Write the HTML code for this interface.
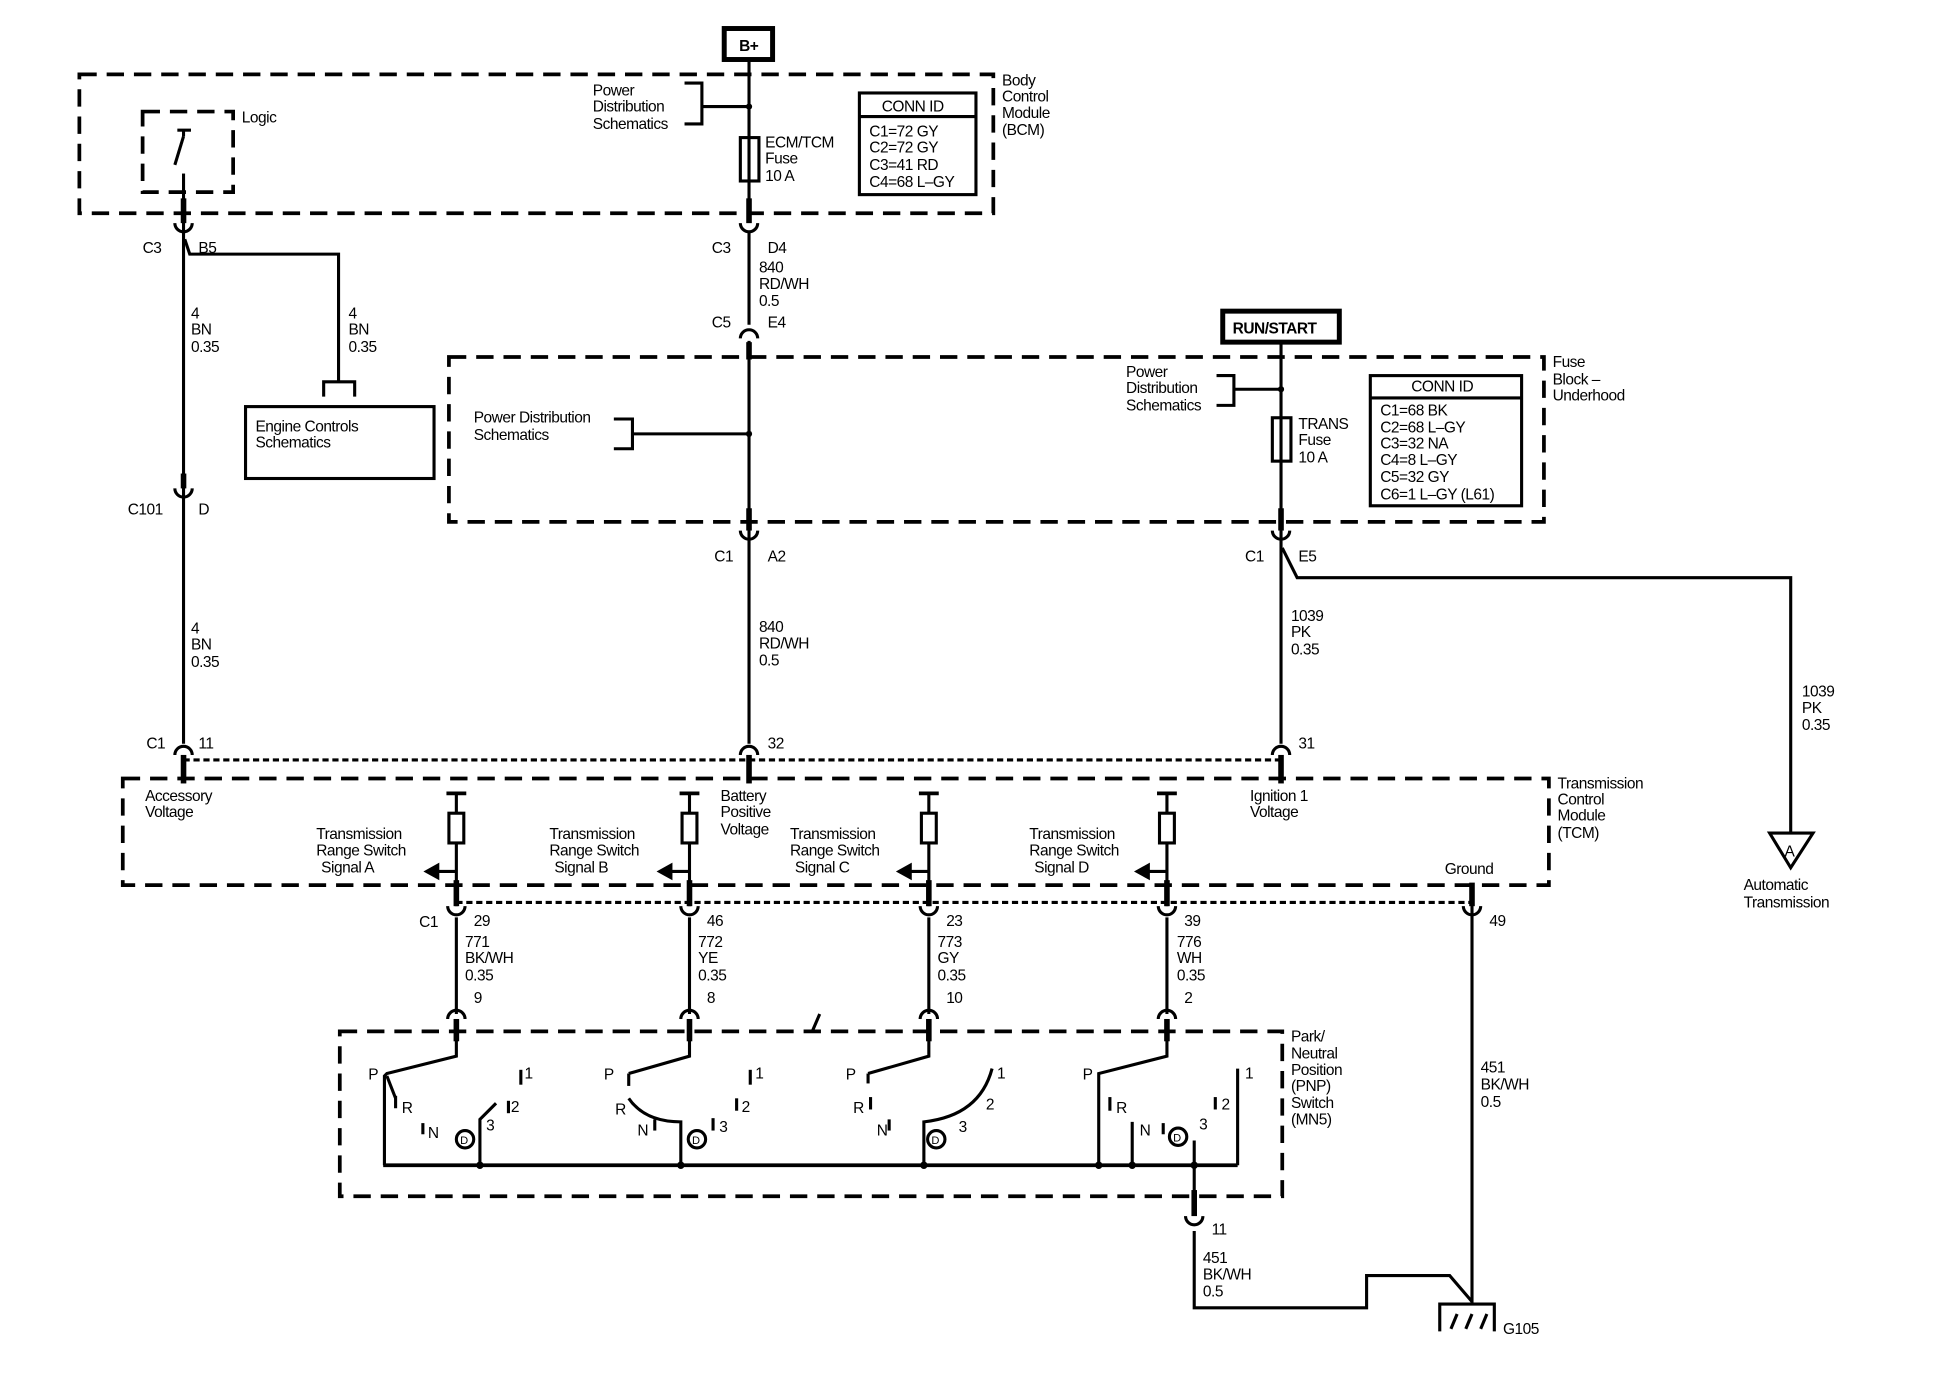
<!DOCTYPE html>
<html><head><meta charset="utf-8"><style>
html,body{margin:0;padding:0;background:#fff;}
svg{display:block;}
text{font-family:"Liberation Sans",sans-serif;font-size:12.5px;fill:#000;letter-spacing:-0.4px;}
.b{font-weight:bold;}
</style></head><body>
<svg width="1942" height="1376" viewBox="0 0 1566 1110" preserveAspectRatio="none" xmlns="http://www.w3.org/2000/svg">
<g fill="none" stroke="#000" stroke-width="2.5">
<!-- dashed boxes -->
<g stroke-dasharray="14,8" stroke-width="3">
<rect x="64" y="60" width="737" height="112"/>
<rect x="115" y="90" width="73" height="65"/>
<rect x="362" y="288" width="883" height="133"/>
<rect x="99" y="628" width="1150" height="86"/>
<rect x="274" y="832" width="760" height="133"/>
</g>
<!-- dotted -->
<g stroke-dasharray="5,3" stroke-width="2.5">
<line x1="148" y1="613" x2="1033" y2="613"/>
<line x1="368" y1="728" x2="1187" y2="728"/>
</g>
<!-- B+ -->
<rect x="584" y="23" width="39" height="25" stroke-width="4"/>
<line x1="604" y1="48" x2="604" y2="178"/>
<polyline points="552,67 566,67 566,100 552,100"/>
<line x1="566" y1="86" x2="604" y2="86"/>
<rect x="597" y="111" width="15" height="35"/>
<rect x="693" y="75" width="94" height="82"/>
<line x1="693" y1="94" x2="787" y2="94"/>
<!-- logic switch -->
<line x1="143" y1="105" x2="154" y2="105"/>
<line x1="148" y1="105" x2="148" y2="110"/>
<line x1="148" y1="110" x2="141" y2="133"/>
<line x1="148" y1="140" x2="148" y2="178"/>
<!-- left wire -->
<line x1="148" y1="178" x2="148" y2="600"/>
<polyline points="149,193 153,205 273,205 273,308"/>
<polyline points="261,320 261,308 286,308 286,320"/>
<rect x="198" y="328" width="152" height="58"/>
<!-- middle -->
<line x1="604" y1="186" x2="604" y2="262"/>
<line x1="604" y1="275" x2="604" y2="600"/>
<polyline points="495,338 510,338 510,362 495,362"/>
<line x1="510" y1="350" x2="604" y2="350"/>
<!-- right -->
<rect x="986" y="251" width="94" height="25" stroke-width="4"/>
<line x1="1033" y1="277" x2="1033" y2="600"/>
<polyline points="981,303 995,303 995,327 981,327"/>
<line x1="995" y1="314" x2="1033" y2="314"/>
<rect x="1026" y="337" width="15" height="35"/>
<rect x="1105" y="303" width="122" height="105"/>
<line x1="1105" y1="321" x2="1227" y2="321"/>
<polyline points="1034,442 1046,466 1444,466 1444,672"/>
<polygon points="1427,672 1462,672 1444,700"/>
<!-- TCM columns -->
<g id="col">
</g>
<!-- ground wire -->
<line x1="1187" y1="714" x2="1187" y2="1052"/>
<!-- PNP -->
<line x1="309" y1="940" x2="998" y2="940" stroke-width="3"/>
<!-- switch A -->
<polyline points="368,822 368,852 312,866 310,868 310,940"/>
<line x1="312" y1="868" x2="319" y2="886"/>
<line x1="319" y1="884" x2="319" y2="894"/>
<line x1="341" y1="906" x2="341" y2="915"/>
<polyline points="387,940 387,903 400,890"/>
<line x1="410" y1="888" x2="410" y2="898"/>
<line x1="420" y1="863" x2="420" y2="875"/>
<circle cx="375" cy="919" r="7"/>
<!-- switch B -->
<polyline points="556,822 556,852 507,866"/>
<line x1="507" y1="866" x2="507" y2="876"/>
<path d="M507,886 Q520,905 549,905 L549,940"/>
<line x1="528" y1="903" x2="528" y2="912"/>
<line x1="575" y1="902" x2="575" y2="912"/>
<line x1="594" y1="886" x2="594" y2="896"/>
<line x1="605" y1="863" x2="605" y2="875"/>
<circle cx="562" cy="919" r="7"/>
<!-- switch C -->
<polyline points="749,822 749,852 700,866"/>
<line x1="700" y1="866" x2="700" y2="874"/>
<line x1="702" y1="885" x2="702" y2="895"/>
<line x1="717" y1="903" x2="717" y2="912"/>
<path d="M745,940 L745,905 Q790,900 800,862"/>
<circle cx="755" cy="919" r="7"/>
<!-- switch D -->
<polyline points="941,822 941,852 886,866 886,940"/>
<line x1="895" y1="885" x2="895" y2="896"/>
<line x1="913" y1="905" x2="913" y2="940"/>
<line x1="938" y1="906" x2="938" y2="915"/>
<line x1="980" y1="885" x2="980" y2="895"/>
<line x1="998" y1="862" x2="998" y2="940"/>
<circle cx="950" cy="917" r="7"/>
<line x1="963" y1="920" x2="963" y2="980"/>
<line x1="655" y1="832" x2="661" y2="818"/>
<!-- bottom wire -->
<polyline points="963,993 963,1055 1102,1055 1102,1029 1169,1029 1187,1050"/>
<polyline points="1161,1074 1161,1052 1205,1052 1205,1074"/>
<line x1="1170" y1="1072" x2="1175" y2="1060"/>
<line x1="1182" y1="1072" x2="1187" y2="1060"/>
<line x1="1194" y1="1072" x2="1199" y2="1060"/>
<!-- connectors: cup (U) -->
<g stroke-width="2.5">
<path d="M141,180 A7,7 0 0 0 155,180"/>
<path d="M597,180 A7,7 0 0 0 611,180"/>
<path d="M141,394 A7,7 0 0 0 155,394"/>
<path d="M597,428 A7,7 0 0 0 611,428"/>
<path d="M1026,428 A7,7 0 0 0 1040,428"/>
<path d="M361,731 A7,7 0 0 0 375,731"/>
<path d="M549,731 A7,7 0 0 0 563,731"/>
<path d="M742,731 A7,7 0 0 0 756,731"/>
<path d="M934,731 A7,7 0 0 0 948,731"/>
<path d="M1180,731 A7,7 0 0 0 1194,731"/>
<path d="M956,981 A7,7 0 0 0 970,981"/>
<!-- caps (n) -->
<path d="M597,273 A7,7 0 0 1 611,273"/>
<path d="M141,609 A7,7 0 0 1 155,609"/>
<path d="M597,609 A7,7 0 0 1 611,609"/>
<path d="M1026,609 A7,7 0 0 1 1040,609"/>
<path d="M361,822 A7,7 0 0 1 375,822"/>
<path d="M549,822 A7,7 0 0 1 563,822"/>
<path d="M742,822 A7,7 0 0 1 756,822"/>
<path d="M934,822 A7,7 0 0 1 948,822"/>
</g>
<!-- thick stubs -->
<g stroke-width="4.5">
<line x1="148" y1="160" x2="148" y2="180"/>
<line x1="604" y1="160" x2="604" y2="180"/>
<line x1="148" y1="382" x2="148" y2="394"/>
<line x1="604" y1="410" x2="604" y2="428"/>
<line x1="1033" y1="410" x2="1033" y2="428"/>
<line x1="604" y1="276" x2="604" y2="290"/>
<line x1="148" y1="609" x2="148" y2="632"/>
<line x1="604" y1="609" x2="604" y2="632"/>
<line x1="1033" y1="609" x2="1033" y2="632"/>
<line x1="1187" y1="712" x2="1187" y2="731"/>
<line x1="963" y1="960" x2="963" y2="981"/>
</g>
</g>
<!-- TCM signal columns -->
<g fill="none" stroke="#000" stroke-width="2.5">
<g transform="translate(368,0)"><line x1="-8" y1="640" x2="8" y2="640" stroke-width="3"/><line x1="0" y1="640" x2="0" y2="656"/><rect x="-6" y="656" width="12" height="24"/><line x1="0" y1="680" x2="0" y2="731"/><line x1="0" y1="703" x2="-16" y2="703"/><polygon points="-24,703 -15,698 -15,708" fill="#000"/><line x1="0" y1="710" x2="0" y2="731" stroke-width="4.5"/><line x1="0" y1="822" x2="0" y2="840" stroke-width="4.5"/></g>
<g transform="translate(556,0)"><line x1="-8" y1="640" x2="8" y2="640" stroke-width="3"/><line x1="0" y1="640" x2="0" y2="656"/><rect x="-6" y="656" width="12" height="24"/><line x1="0" y1="680" x2="0" y2="731"/><line x1="0" y1="703" x2="-16" y2="703"/><polygon points="-24,703 -15,698 -15,708" fill="#000"/><line x1="0" y1="710" x2="0" y2="731" stroke-width="4.5"/><line x1="0" y1="822" x2="0" y2="840" stroke-width="4.5"/></g>
<g transform="translate(749,0)"><line x1="-8" y1="640" x2="8" y2="640" stroke-width="3"/><line x1="0" y1="640" x2="0" y2="656"/><rect x="-6" y="656" width="12" height="24"/><line x1="0" y1="680" x2="0" y2="731"/><line x1="0" y1="703" x2="-16" y2="703"/><polygon points="-24,703 -15,698 -15,708" fill="#000"/><line x1="0" y1="710" x2="0" y2="731" stroke-width="4.5"/><line x1="0" y1="822" x2="0" y2="840" stroke-width="4.5"/></g>
<g transform="translate(941,0)"><line x1="-8" y1="640" x2="8" y2="640" stroke-width="3"/><line x1="0" y1="640" x2="0" y2="656"/><rect x="-6" y="656" width="12" height="24"/><line x1="0" y1="680" x2="0" y2="731"/><line x1="0" y1="703" x2="-16" y2="703"/><polygon points="-24,703 -15,698 -15,708" fill="#000"/><line x1="0" y1="710" x2="0" y2="731" stroke-width="4.5"/><line x1="0" y1="822" x2="0" y2="840" stroke-width="4.5"/></g>
<line x1="368" y1="740" x2="368" y2="818"/><line x1="556" y1="740" x2="556" y2="818"/><line x1="749" y1="740" x2="749" y2="818"/><line x1="941" y1="740" x2="941" y2="818"/>
</g>
<!-- dots -->
<g fill="#000">
<circle cx="604" cy="86" r="2.5"/><circle cx="604" cy="350" r="2.5"/><circle cx="1033" cy="314" r="2.5"/>
<circle cx="387" cy="940" r="3"/><circle cx="549" cy="940" r="3"/><circle cx="745" cy="940" r="3"/><circle cx="886" cy="940" r="3"/><circle cx="913" cy="940" r="3"/><circle cx="963" cy="940" r="3"/>
</g>
<!-- text -->
<text x="596" y="41" class="b">B+</text>
<text x="994" y="269" class="b">RUN/START</text>
<text x="478" y="77">Power</text><text x="478" y="90">Distribution</text><text x="478" y="104">Schematics</text>
<text x="617" y="119">ECM/TCM</text><text x="617" y="132">Fuse</text><text x="617" y="146">10 A</text>
<text x="711" y="90">CONN ID</text>
<text x="701" y="110">C1=72 GY</text><text x="701" y="123">C2=72 GY</text><text x="701" y="137">C3=41 RD</text><text x="701" y="151">C4=68 L–GY</text>
<text x="808" y="69">Body</text><text x="808" y="82">Control</text><text x="808" y="95">Module</text><text x="808" y="109">(BCM)</text>
<text x="195" y="99">Logic</text>
<text x="115" y="204">C3</text><text x="160" y="204">B5</text>
<text x="154" y="257">4</text><text x="154" y="270">BN</text><text x="154" y="284">0.35</text>
<text x="281" y="257">4</text><text x="281" y="270">BN</text><text x="281" y="284">0.35</text>
<text x="206" y="348">Engine Controls</text><text x="206" y="361">Schematics</text>
<text x="103" y="415">C101</text><text x="160" y="415">D</text>
<text x="154" y="511">4</text><text x="154" y="524">BN</text><text x="154" y="538">0.35</text>
<text x="118" y="604">C1</text><text x="160" y="604">11</text>
<text x="574" y="204">C3</text><text x="619" y="204">D4</text>
<text x="612" y="220">840</text><text x="612" y="233">RD/WH</text><text x="612" y="247">0.5</text>
<text x="574" y="264">C5</text><text x="619" y="264">E4</text>
<text x="382" y="341">Power Distribution</text><text x="382" y="355">Schematics</text>
<text x="576" y="453">C1</text><text x="619" y="453">A2</text>
<text x="612" y="510">840</text><text x="612" y="523">RD/WH</text><text x="612" y="537">0.5</text>
<text x="619" y="604">32</text>
<text x="908" y="304">Power</text><text x="908" y="317">Distribution</text><text x="908" y="331">Schematics</text>
<text x="1047" y="346">TRANS</text><text x="1047" y="359">Fuse</text><text x="1047" y="373">10 A</text>
<text x="1138" y="316">CONN ID</text>
<text x="1113" y="335">C1=68 BK</text><text x="1113" y="349">C2=68 L–GY</text><text x="1113" y="362">C3=32 NA</text><text x="1113" y="375">C4=8 L–GY</text><text x="1113" y="389">C5=32 GY</text><text x="1113" y="403">C6=1 L–GY (L61)</text>
<text x="1252" y="296">Fuse</text><text x="1252" y="310">Block –</text><text x="1252" y="323">Underhood</text>
<text x="1004" y="453">C1</text><text x="1047" y="453">E5</text>
<text x="1041" y="501">1039</text><text x="1041" y="514">PK</text><text x="1041" y="528">0.35</text>
<text x="1047" y="604">31</text>
<text x="1453" y="562">1039</text><text x="1453" y="575">PK</text><text x="1453" y="589">0.35</text>
<text x="1439" y="691">A</text>
<text x="1406" y="718">Automatic</text><text x="1406" y="732">Transmission</text>
<text x="117" y="646">Accessory</text><text x="117" y="659">Voltage</text>
<text x="581" y="646">Battery</text><text x="581" y="659">Positive</text><text x="581" y="673">Voltage</text>
<text x="1008" y="646">Ignition 1</text><text x="1008" y="659">Voltage</text>
<text x="1256" y="636">Transmission</text><text x="1256" y="649">Control</text><text x="1256" y="662">Module</text><text x="1256" y="676">(TCM)</text>
<text x="255" y="677">Transmission</text><text x="255" y="690">Range Switch</text><text x="259" y="704">Signal A</text>
<text x="443" y="677">Transmission</text><text x="443" y="690">Range Switch</text><text x="447" y="704">Signal B</text>
<text x="637" y="677">Transmission</text><text x="637" y="690">Range Switch</text><text x="641" y="704">Signal C</text>
<text x="830" y="677">Transmission</text><text x="830" y="690">Range Switch</text><text x="834" y="704">Signal D</text>
<text x="1165" y="705">Ground</text>
<text x="338" y="748">C1</text><text x="382" y="747">29</text><text x="570" y="747">46</text><text x="763" y="747">23</text><text x="955" y="747">39</text><text x="1201" y="747">49</text>
<text x="375" y="764">771</text><text x="375" y="777">BK/WH</text><text x="375" y="791">0.35</text>
<text x="563" y="764">772</text><text x="563" y="777">YE</text><text x="563" y="791">0.35</text>
<text x="756" y="764">773</text><text x="756" y="777">GY</text><text x="756" y="791">0.35</text>
<text x="949" y="764">776</text><text x="949" y="777">WH</text><text x="949" y="791">0.35</text>
<text x="382" y="809">9</text><text x="570" y="809">8</text><text x="763" y="809">10</text><text x="955" y="809">2</text>
<text x="1041" y="840">Park/</text><text x="1041" y="854">Neutral</text><text x="1041" y="867">Position</text><text x="1041" y="880">(PNP)</text><text x="1041" y="894">Switch</text><text x="1041" y="907">(MN5)</text>
<text x="1194" y="865">451</text><text x="1194" y="879">BK/WH</text><text x="1194" y="893">0.5</text>
<g style="font-size:11px">
<text x="297" y="871">P</text><text x="324" y="898">R</text><text x="345" y="918">N</text><text x="392" y="912">3</text><text x="412" y="897">2</text><text x="423" y="870">1</text>
<text x="487" y="871">P</text><text x="496" y="899">R</text><text x="514" y="916">N</text><text x="580" y="913">3</text><text x="598" y="897">2</text><text x="609" y="870">1</text>
<text x="682" y="871">P</text><text x="688" y="898">R</text><text x="707" y="916">N</text><text x="773" y="913">3</text><text x="795" y="895">2</text><text x="804" y="870">1</text>
<text x="873" y="871">P</text><text x="900" y="898">R</text><text x="919" y="916">N</text><text x="967" y="911">3</text><text x="985" y="895">2</text><text x="1004" y="870">1</text>
<text x="371" y="923" style="font-size:9px">D</text><text x="558" y="923" style="font-size:9px">D</text><text x="751" y="923" style="font-size:9px">D</text><text x="946" y="921" style="font-size:9px">D</text>
</g>
<text x="977" y="996">11</text>
<text x="970" y="1019">451</text><text x="970" y="1032">BK/WH</text><text x="970" y="1046">0.5</text>
<text x="1212" y="1076">G105</text>
</svg>
</body></html>
